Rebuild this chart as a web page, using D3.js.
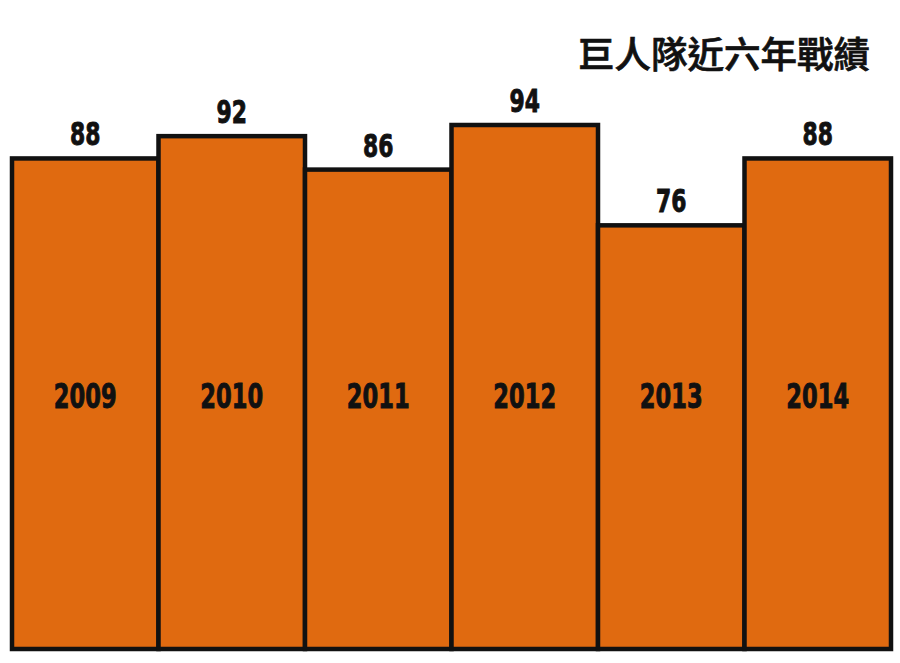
<!DOCTYPE html>
<html lang="zh-Hant">
<head>
<meta charset="utf-8">
<title>巨人隊近六年戰績</title>
<style>
  body { margin: 0; background: #fff; }
  .num { font-family: "Liberation Sans Narrow", "DejaVu Sans Condensed", sans-serif; font-weight: bold; fill: #111; stroke: #111; stroke-width: 0.9; }
  .title { font-family: "Noto Sans CJK TC", "Noto Sans CJK SC", sans-serif; font-weight: 500; fill: #111; stroke: #111; stroke-width: 0.7; }
</style>
</head>
<body>
<svg id="chart" width="900" height="663"></svg>
<script src="https://d3js.org/d3.v7.min.js"></script>
<script>
  // 資料
  var years = ['2009', '2010', '2011', '2012', '2013', '2014'];
  var wins = [88, 92, 86, 94, 76, 88];
  var title = '巨人隊近六年戰績';

  var svg = d3.select('#chart');

  var x = d3.scaleBand()
      .domain(years)
      .range([12, 891])
      .padding(0);

  var y = d3.scaleLinear()
      .domain([0, 94])
      .range([649, 125]);

  var narrow = 0.76;   // 窄字體效果

  var g = svg.append('g');

  // 長條
  g.selectAll('rect.bar')
    .data(years)
    .enter()
    .append('rect')
    .attr('class', 'bar')
    .attr('x', function(d) { return x(d); })
    .attr('width', x.bandwidth())
    .attr('y', function(d, i) { return y(wins[i]); })
    .attr('height', function(d, i) { return y(0) - y(wins[i]); })
    .attr('fill', '#e06a10')
    .attr('stroke', '#111')
    .attr('stroke-width', 4.5);

  // 數值
  g.selectAll('text.val')
    .data(years)
    .enter()
    .append('text')
    .attr('class', 'num val')
    .attr('transform', function(d, i) {
      return 'translate(' + (x(d) + x.bandwidth() / 2) + ',' + (y(wins[i]) - 13) + ') scale(' + narrow + ',1)';
    })
    .attr('text-anchor', 'middle')
    .style('font-size', '32px')
    .text(function(d, i) { return wins[i]; });

  // 年份
  g.selectAll('text.year')
    .data(years)
    .enter()
    .append('text')
    .attr('class', 'num year')
    .attr('transform', function(d) {
      return 'translate(' + (x(d) + x.bandwidth() / 2) + ',408) scale(' + narrow + ',1)';
    })
    .attr('text-anchor', 'middle')
    .style('font-size', '33px')
    .text(function(d) { return d; });

  // 標題
  svg.append('text')
    .attr('class', 'title')
    .attr('x', 870)
    .attr('y', 68)
    .attr('text-anchor', 'end')
    .style('font-size', '36.5px')
    .text(title);
</script>
</body>
</html>
